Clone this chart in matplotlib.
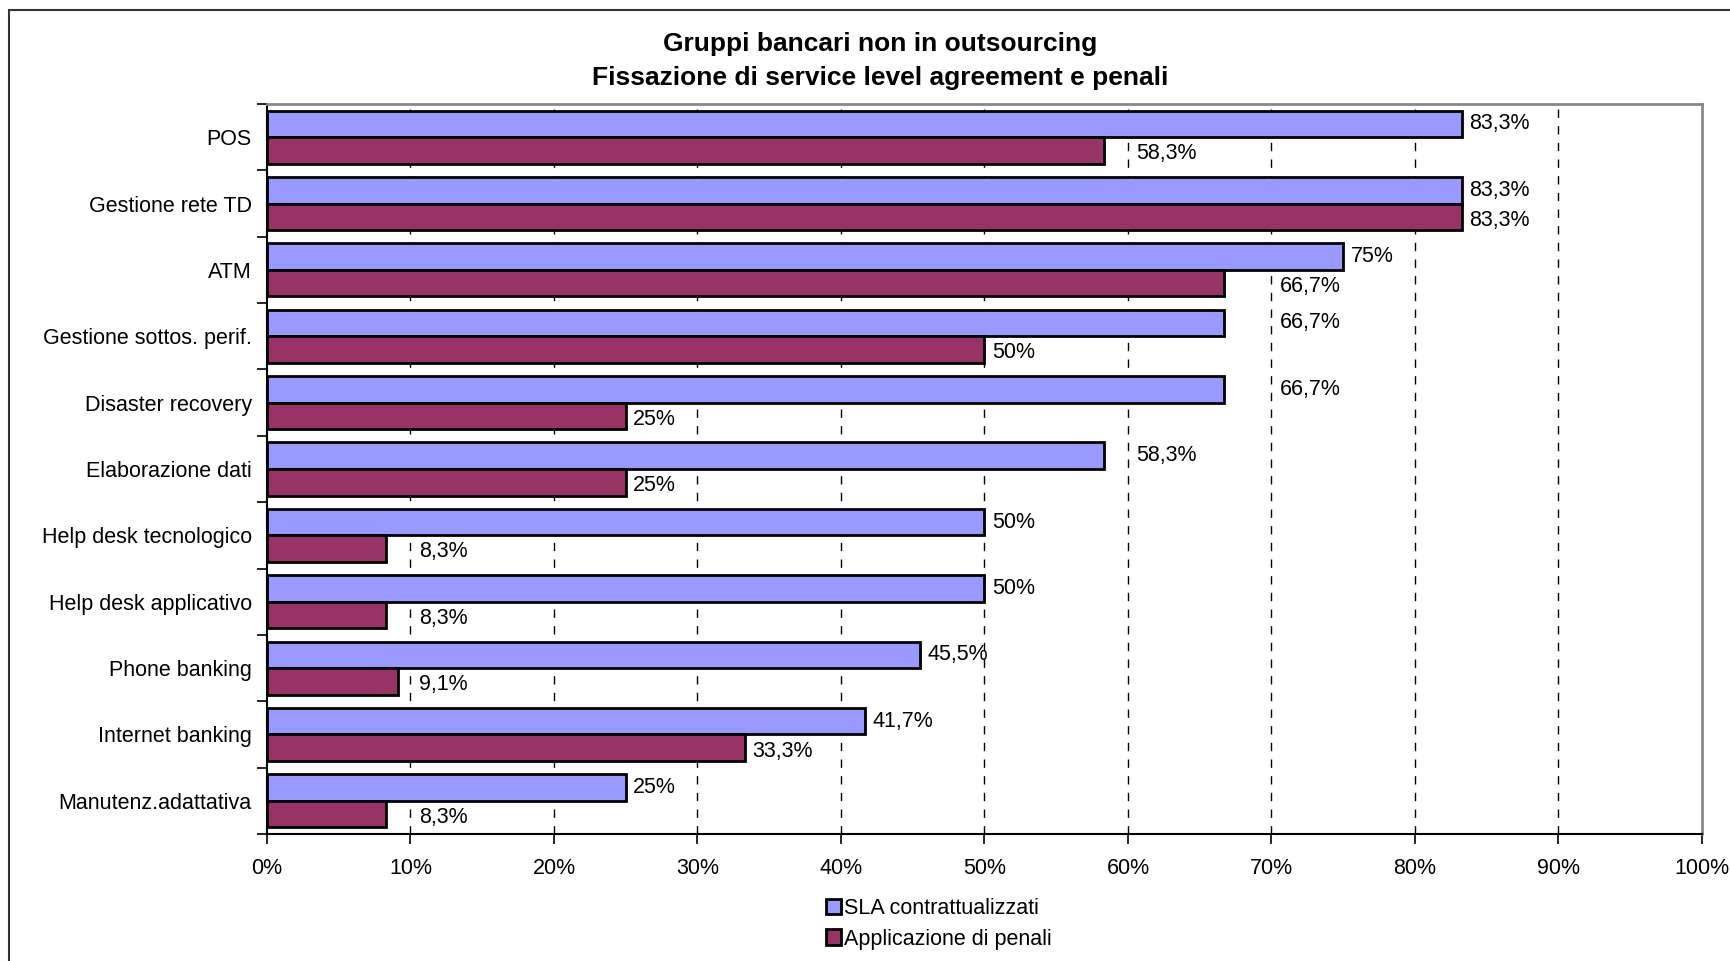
import matplotlib
matplotlib.use("Agg")
import matplotlib.pyplot as plt
from matplotlib.patches import Rectangle
import numpy as np

plt.rcParams['font.family'] = ['Liberation Sans', 'DejaVu Sans']

categories = ["POS", "Gestione rete TD", "ATM", "Gestione sottos. perif.",
              "Disaster recovery", "Elaborazione dati", "Help desk tecnologico",
              "Help desk applicativo", "Phone banking", "Internet banking",
              "Manutenz.adattativa"]
sla = [83.3, 83.3, 75.0, 66.7, 66.7, 58.3, 50.0, 50.0, 45.5, 41.7, 25.0]
penali = [58.3, 83.3, 66.7, 50.0, 25.0, 25.0, 8.3, 8.3, 9.1, 33.3, 8.3]
xticks = [0, 10, 20, 30, 40, 50, 60, 70, 80, 90, 100]
series_names = ["SLA contrattualizzati", "Applicazione di penali"]
title_lines = ["Gruppi bancari non in outsourcing",
               "Fissazione di service level agreement e penali"]

W, H = 1731, 961
fig = plt.figure(figsize=(W / 100, H / 100), dpi=100)
fig.patch.set_facecolor("white")

# outer frame (extends beyond right/bottom edge)
fig.patches.append(Rectangle((9 / W, -0.05), 1.1, (H - 10) / H + 0.05,
                             transform=fig.transFigure, fill=False,
                             edgecolor="#333333", linewidth=1.5, clip_on=False))

left, right, top, bottom = 267, 1702, 104, 834
ax = fig.add_axes([left / W, 1 - bottom / H, (right - left) / W, (bottom - top) / H])

n = len(categories)
y = np.arange(n)
bh = 0.4
blue = "#9999FF"
red = "#993366"
FS = 15.5

ax.barh(y - bh / 2, sla, height=bh, color=blue, edgecolor="black", linewidth=2,
        label=series_names[0], zorder=3)
ax.barh(y + bh / 2, penali, height=bh, color=red, edgecolor="black", linewidth=2,
        label=series_names[1], zorder=3)

ax.set_xlim(0, 100)
ax.set_ylim(n - 0.5, -0.5)

def fmt(v):
    s = ("%.1f" % v).rstrip("0").rstrip(".")
    return s.replace(".", ",") + "%"

renderer = fig.canvas.get_renderer()
px_per_unit = (right - left) / 100.0
grid_vals = xticks[1:-1]

def place_label(v, yy):
    start = v + 0.5
    t = ax.text(start, yy, fmt(v), va="center", ha="left", fontsize=FS, zorder=4)
    wpx = t.get_window_extent(renderer).width
    wdat = wpx / px_per_unit
    for g in grid_vals:
        if start < g < start + 0.85 * wdat:
            start = g + 0.6
            break
    t.set_x(start)

for i in range(n):
    place_label(sla[i], y[i] - bh / 2)
    place_label(penali[i], y[i] + bh / 2 + 0.05)

ax.set_xticks(xticks)
ax.set_xticklabels([f"{t}%" for t in xticks], fontsize=FS)
ax.set_yticks(y)
ax.set_yticklabels(categories, fontsize=FS)
ax.set_yticks(np.arange(n + 1) - 0.5, minor=True)
ax.tick_params(axis="y", which="major", length=0, pad=11)
ax.tick_params(axis="y", which="minor", length=7, width=1.2, color="black")
ax.tick_params(axis="x", which="major", length=7, width=1.2, direction="out",
               pad=10, color="black")

for g in grid_vals:
    ax.axvline(g, color="black", linestyle=(0, (6, 6)), linewidth=1.0, zorder=1)

for s in ["top", "right"]:
    ax.spines[s].set_color("#888888")
    ax.spines[s].set_linewidth(2)
for s in ["left", "bottom"]:
    ax.spines[s].set_color("black")
    ax.spines[s].set_linewidth(1.5)

fig.text(880 / W, 1 - 44 / H, title_lines[0], ha="center", va="center",
         fontsize=19, fontweight="bold")
fig.text(880 / W, 1 - 78 / H, title_lines[1], ha="center", va="center",
         fontsize=19, fontweight="bold")

handles, labels = ax.get_legend_handles_labels()
leg = fig.legend(handles, labels, loc="center left",
                 bbox_to_anchor=(826 / W, 1 - 924 / H), frameon=False,
                 fontsize=FS, handlelength=0.7, handleheight=0.7,
                 handletextpad=0.15, labelspacing=0.42, borderaxespad=0,
                 borderpad=0)

fig.savefig("out.png", dpi=100)
